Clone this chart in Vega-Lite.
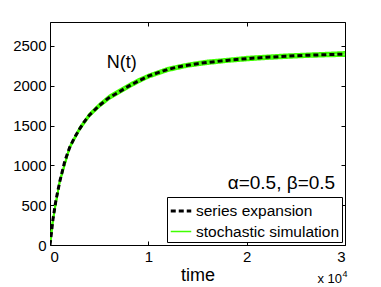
{
  "$schema": "https://vega.github.io/schema/vega-lite/v6.json",
  "width": 295,
  "height": 223,
  "autosize": {"type": "none"},
  "padding": {"left": 50, "top": 22, "right": 36, "bottom": 42},
  "config": {
    "font": "Liberation Sans",
    "view": {"stroke": "black", "strokeWidth": 1},
    "axis": {
      "grid": false,
      "domain": false,
      "tickColor": "black",
      "tickSize": -4,
      "labelPadding": 8,
      "labelFontSize": 15,
      "labelColor": "black",
      "labelFont": "Liberation Sans",
      "titleFont": "Liberation Sans",
      "titleFontWeight": "normal",
      "titleColor": "black"
    },
    "legend": {
      "labelFont": "Liberation Sans",
      "labelFontSize": 15.5,
      "labelColor": "black"
    }
  },
  "resolve": {"axis": {"x": "independent", "y": "independent"}},
  "datasets": {
    "series": [
      {"t": 0, "N": 0}, {"t": 100, "N": 100}, {"t": 300, "N": 320}, {"t": 600, "N": 560},
      {"t": 1000, "N": 800}, {"t": 1500, "N": 1050}, {"t": 2000, "N": 1225}, {"t": 2500, "N": 1350},
      {"t": 3000, "N": 1455}, {"t": 3500, "N": 1550}, {"t": 4000, "N": 1630}, {"t": 5000, "N": 1750},
      {"t": 6000, "N": 1850}, {"t": 7000, "N": 1920}, {"t": 8000, "N": 1995}, {"t": 9000, "N": 2060},
      {"t": 10000, "N": 2120}, {"t": 11000, "N": 2165}, {"t": 12000, "N": 2205}, {"t": 13000, "N": 2235},
      {"t": 14000, "N": 2258}, {"t": 15000, "N": 2277}, {"t": 16000, "N": 2293}, {"t": 17000, "N": 2305},
      {"t": 18000, "N": 2318}, {"t": 19000, "N": 2330}, {"t": 20000, "N": 2340}, {"t": 22000, "N": 2357},
      {"t": 24000, "N": 2370}, {"t": 26000, "N": 2382}, {"t": 28000, "N": 2390}, {"t": 30000, "N": 2397}
    ],
    "stoch": [
      {"run": "a", "t": 0, "N": 0}, {"run": "a", "t": 300, "N": 330}, {"run": "a", "t": 1000, "N": 815},
      {"run": "a", "t": 2000, "N": 1240}, {"run": "a", "t": 3000, "N": 1475}, {"run": "a", "t": 4000, "N": 1650},
      {"run": "a", "t": 5000, "N": 1772}, {"run": "a", "t": 6000, "N": 1875}, {"run": "a", "t": 7000, "N": 1950},
      {"run": "a", "t": 8000, "N": 2020}, {"run": "a", "t": 9000, "N": 2085}, {"run": "a", "t": 10000, "N": 2140},
      {"run": "a", "t": 12000, "N": 2228}, {"run": "a", "t": 14000, "N": 2280}, {"run": "a", "t": 16000, "N": 2318},
      {"run": "a", "t": 18000, "N": 2340}, {"run": "a", "t": 20000, "N": 2365}, {"run": "a", "t": 22000, "N": 2380},
      {"run": "a", "t": 24000, "N": 2395}, {"run": "a", "t": 26000, "N": 2405}, {"run": "a", "t": 28000, "N": 2415},
      {"run": "a", "t": 30000, "N": 2425},
      {"run": "b", "t": 0, "N": 0}, {"run": "b", "t": 300, "N": 310}, {"run": "b", "t": 1000, "N": 790},
      {"run": "b", "t": 2000, "N": 1212}, {"run": "b", "t": 3000, "N": 1440}, {"run": "b", "t": 4000, "N": 1612},
      {"run": "b", "t": 5000, "N": 1730}, {"run": "b", "t": 6000, "N": 1828}, {"run": "b", "t": 7000, "N": 1900},
      {"run": "b", "t": 8000, "N": 1972}, {"run": "b", "t": 9000, "N": 2038}, {"run": "b", "t": 10000, "N": 2098},
      {"run": "b", "t": 12000, "N": 2182}, {"run": "b", "t": 14000, "N": 2236}, {"run": "b", "t": 16000, "N": 2270},
      {"run": "b", "t": 18000, "N": 2296}, {"run": "b", "t": 20000, "N": 2316}, {"run": "b", "t": 22000, "N": 2333},
      {"run": "b", "t": 24000, "N": 2346}, {"run": "b", "t": 26000, "N": 2358}, {"run": "b", "t": 28000, "N": 2366},
      {"run": "b", "t": 30000, "N": 2372},
      {"run": "c", "t": 0, "N": 0}, {"run": "c", "t": 300, "N": 325}, {"run": "c", "t": 1000, "N": 805},
      {"run": "c", "t": 2000, "N": 1230}, {"run": "c", "t": 3000, "N": 1462}, {"run": "c", "t": 4000, "N": 1640},
      {"run": "c", "t": 5000, "N": 1760}, {"run": "c", "t": 6000, "N": 1860}, {"run": "c", "t": 7000, "N": 1935},
      {"run": "c", "t": 8000, "N": 2008}, {"run": "c", "t": 9000, "N": 2068}, {"run": "c", "t": 10000, "N": 2128},
      {"run": "c", "t": 12000, "N": 2212}, {"run": "c", "t": 14000, "N": 2265}, {"run": "c", "t": 16000, "N": 2300},
      {"run": "c", "t": 18000, "N": 2326}, {"run": "c", "t": 20000, "N": 2350}, {"run": "c", "t": 22000, "N": 2366},
      {"run": "c", "t": 24000, "N": 2380}, {"run": "c", "t": 26000, "N": 2393}, {"run": "c", "t": 28000, "N": 2402},
      {"run": "c", "t": 30000, "N": 2410},
      {"run": "d", "t": 0, "N": 0}, {"run": "d", "t": 300, "N": 318}, {"run": "d", "t": 1000, "N": 798},
      {"run": "d", "t": 2000, "N": 1220}, {"run": "d", "t": 3000, "N": 1450}, {"run": "d", "t": 4000, "N": 1625},
      {"run": "d", "t": 5000, "N": 1742}, {"run": "d", "t": 6000, "N": 1842}, {"run": "d", "t": 7000, "N": 1912},
      {"run": "d", "t": 8000, "N": 1985}, {"run": "d", "t": 9000, "N": 2050}, {"run": "d", "t": 10000, "N": 2110},
      {"run": "d", "t": 12000, "N": 2195}, {"run": "d", "t": 14000, "N": 2250}, {"run": "d", "t": 16000, "N": 2284},
      {"run": "d", "t": 18000, "N": 2310}, {"run": "d", "t": 20000, "N": 2330}, {"run": "d", "t": 22000, "N": 2346},
      {"run": "d", "t": 24000, "N": 2360}, {"run": "d", "t": 26000, "N": 2372}, {"run": "d", "t": 28000, "N": 2380},
      {"run": "d", "t": 30000, "N": 2386}
    ]
  },
  "layer": [
    {
      "data": {"name": "stoch"},
      "transform": [{"calculate": "'stochastic simulation'", "as": "kind"}],
      "mark": {"type": "line", "clip": true},
      "encoding": {
        "x": {
          "field": "t", "type": "quantitative",
          "scale": {"domain": [0, 30000], "nice": false, "zero": false},
          "axis": {"values": [0, 10000, 20000, 30000], "labelExpr": "datum.value / 10000", "title": "time", "titleFontSize": 18, "titlePadding": 2}
        },
        "y": {
          "field": "N", "type": "quantitative",
          "scale": {"domain": [0, 2800], "nice": false},
          "axis": {"values": [0, 500, 1000, 1500, 2000, 2500], "format": "d", "title": null}
        },
        "detail": {"field": "run"},
        "color": {
          "field": "kind", "type": "nominal",
          "scale": {"domain": ["series expansion", "stochastic simulation"], "range": ["black", "#40ff00"]},
          "legend": {
            "title": null, "orient": "bottom-right", "offset": 3,
            "strokeColor": "black", "fillColor": "white", "padding": 2,
            "symbolType": "stroke", "symbolSize": 420,
            "labelOffset": 3, "rowPadding": 0
          }
        },
        "strokeDash": {
          "field": "kind", "type": "nominal",
          "scale": {"domain": ["series expansion", "stochastic simulation"], "range": [[5, 3], [1, 0]]}
        },
        "strokeWidth": {
          "field": "kind", "type": "nominal",
          "scale": {"domain": ["series expansion", "stochastic simulation"], "range": [3, 1.6]}
        }
      }
    },
    {
      "data": {"name": "series"},
      "transform": [{"calculate": "'series expansion'", "as": "kind"}],
      "mark": {"type": "line", "clip": true},
      "encoding": {
        "x": {"field": "t", "type": "quantitative", "axis": null},
        "y": {"field": "N", "type": "quantitative", "axis": null},
        "color": {"field": "kind", "type": "nominal"},
        "strokeDash": {"field": "kind", "type": "nominal"},
        "strokeWidth": {"field": "kind", "type": "nominal"}
      }
    },
    {
      "data": {"name": "series"},
      "mark": {"type": "line", "opacity": 0},
      "encoding": {
        "x": {"field": "t", "type": "quantitative", "axis": {"orient": "top", "values": [0, 10000, 20000, 30000], "labels": false, "title": null}},
        "y": {"field": "N", "type": "quantitative", "axis": {"orient": "right", "values": [0, 500, 1000, 1500, 2000, 2500], "labels": false, "title": null}}
      }
    },
    {
      "data": {"values": [{"t": 7300, "N": 2290, "label": "N(t)"}]},
      "mark": {"type": "text", "fontSize": 18, "color": "black", "baseline": "middle", "align": "center"},
      "encoding": {
        "x": {"field": "t", "type": "quantitative", "axis": null},
        "y": {"field": "N", "type": "quantitative", "axis": null},
        "text": {"field": "label"}
      }
    },
    {
      "data": {"values": [{"t": 29000, "N": 775, "label": "α=0.5, β=0.5"}]},
      "mark": {"type": "text", "fontSize": 19, "color": "black", "baseline": "middle", "align": "right"},
      "encoding": {
        "x": {"field": "t", "type": "quantitative", "axis": null},
        "y": {"field": "N", "type": "quantitative", "axis": null},
        "text": {"field": "label"}
      }
    },
    {
      "data": {"values": [{"t": 29700, "N": -430, "label": "x 10"}]},
      "mark": {"type": "text", "fontSize": 13, "color": "black", "align": "right", "baseline": "middle"},
      "encoding": {
        "x": {"field": "t", "type": "quantitative", "axis": null},
        "y": {"field": "N", "type": "quantitative", "axis": null},
        "text": {"field": "label"}
      }
    },
    {
      "data": {"values": [{"t": 29750, "N": -370, "label": "4"}]},
      "mark": {"type": "text", "fontSize": 9, "color": "black", "align": "left", "baseline": "middle"},
      "encoding": {
        "x": {"field": "t", "type": "quantitative", "axis": null},
        "y": {"field": "N", "type": "quantitative", "axis": null},
        "text": {"field": "label"}
      }
    }
  ]
}
